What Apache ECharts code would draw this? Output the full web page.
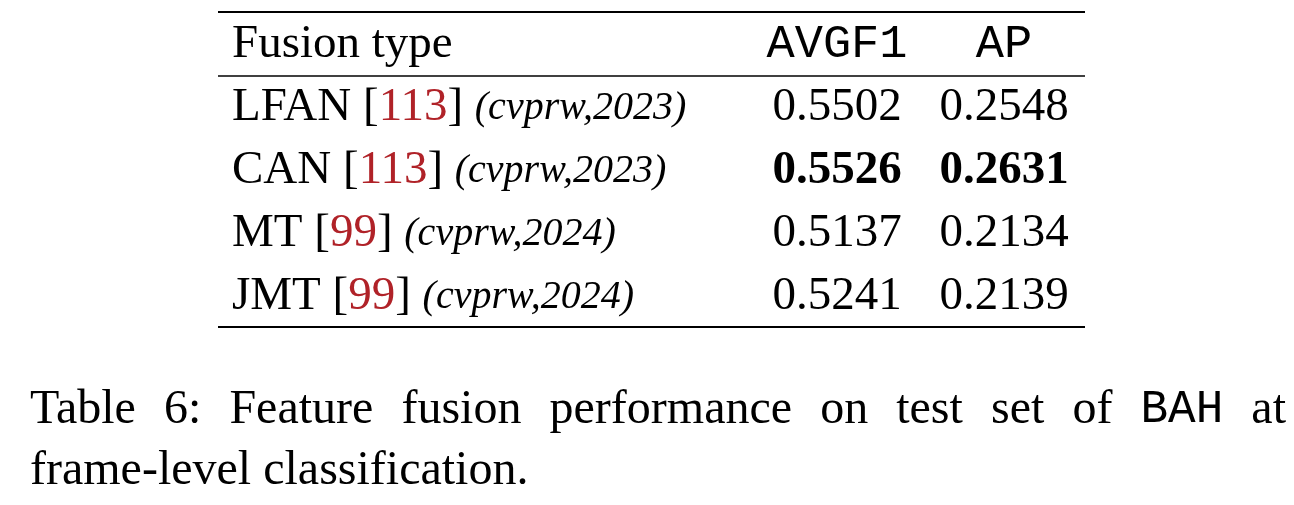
<!DOCTYPE html>
<html><head><meta charset="utf-8">
<script src="https://cdn.jsdelivr.net/npm/echarts@6/dist/echarts.min.js"></script>
<style>html,body{margin:0;background:#fff}#c{width:1294px;height:505px}</style>
</head><body><div id="c"></div>
<script>
const headers = ['Fusion type', 'AVGF1', 'AP'];
const methods = ['LFAN', 'CAN', 'MT', 'JMT'];
const cites = ['113', '113', '99', '99'];
const venues = ['(cvprw,2023)', '(cvprw,2023)', '(cvprw,2024)', '(cvprw,2024)'];
const avgf1 = ['0.5502', '0.5526', '0.5137', '0.5241'];
const ap = ['0.2548', '0.2631', '0.2134', '0.2139'];
const boldRow = 1;
const captionWords = ['Table', '6:', 'Feature', 'fusion', 'performance', 'on', 'test', 'set', 'of', 'BAH', 'at'];
const captionMonoWord = 'BAH';
const captionLine2 = 'frame-level classification.';

const serif = '"Liberation Serif", "DejaVu Serif", serif';
const mono = '"Liberation Mono", "DejaVu Sans Mono", monospace';
const fs = 47;
const rowY = [108, 171, 234, 297];
const els = [];
function hline(y, w) {
  els.push({type:'line', shape:{x1:218, y1:y, x2:1085, y2:y}, style:{stroke:'#000', lineWidth:w}});
}
hline(12, 2.2); hline(76, 1.3); hline(327, 2.2);
els.push({type:'text', x:232, y:45, style:{text:headers[0], font:`${fs}px ${serif}`, fill:'#000', textVerticalAlign:'middle'}});
els.push({type:'text', x:837, y:45, style:{text:headers[1], font:`${fs}px ${mono}`, fill:'#000', textAlign:'center', textVerticalAlign:'middle'}});
els.push({type:'text', x:1004, y:45, style:{text:headers[2], font:`${fs}px ${mono}`, fill:'#000', textAlign:'center', textVerticalAlign:'middle'}});
methods.forEach((m, i) => {
  els.push({type:'text', x:232, y:rowY[i], style:{
    text:`{n|${m} [}{r|${cites[i]}}{n|] }{v|${venues[i]}}`,
    textVerticalAlign:'middle',
    rich:{
      n:{font:`${fs}px ${serif}`, fill:'#000'},
      r:{font:`${fs}px ${serif}`, fill:'#b02228'},
      v:{font:`italic 40px ${serif}`, fill:'#000'}
    }}});
  const w = i === boldRow ? 'bold ' : '';
  els.push({type:'text', x:837, y:rowY[i], style:{text:avgf1[i], font:`${w}${fs}px ${serif}`, fill:'#000', textAlign:'center', textVerticalAlign:'middle'}});
  els.push({type:'text', x:1004, y:rowY[i], style:{text:ap[i], font:`${w}${fs}px ${serif}`, fill:'#000', textAlign:'center', textVerticalAlign:'middle'}});
});
// justified caption line 1
const cfs = 48;
const ctx = document.createElement('canvas').getContext('2d');
const fonts = captionWords.map(wd => wd === captionMonoWord ? `${cfs-2}px ${mono}` : `${cfs}px ${serif}`);
const widths = captionWords.map((wd, i) => { ctx.font = fonts[i]; return ctx.measureText(wd).width; });
const left = 30, right = 1286;
const gap = (right - left - widths.reduce((a, b) => a + b, 0)) / (captionWords.length - 1);
let x = left;
captionWords.forEach((wd, i) => {
  els.push({type:'text', x:x, y:410, style:{text:wd, font:fonts[i], fill:'#000', textVerticalAlign:'middle'}});
  x += widths[i] + gap;
});
els.push({type:'text', x:30, y:471, style:{text:captionLine2, font:`${cfs}px ${serif}`, fill:'#000', textVerticalAlign:'middle'}});

const chart = echarts.init(document.getElementById('c'));
chart.setOption({animation:false, graphic:els});
</script></body></html>
